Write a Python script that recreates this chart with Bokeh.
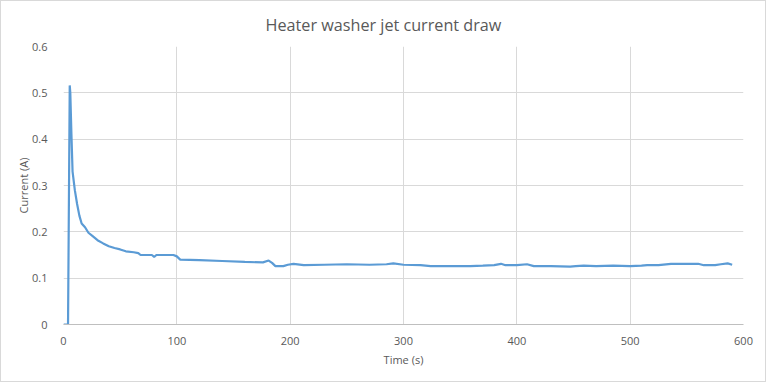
from bokeh.plotting import figure
from bokeh.models import FixedTicker, Range1d
from bokeh.embed import file_html
from bokeh.resources import INLINE

time_s = [0, 4, 5.5, 6, 7, 8, 10, 12, 14, 16, 19, 22, 26, 30, 35, 40, 45, 50, 55, 62, 66, 68,
          78, 80, 82, 97, 100, 103, 120, 140, 160, 176, 181, 184, 187, 194, 198, 203, 212,
          230, 250, 270, 285, 291, 300, 315, 324, 340, 359, 370, 380, 386, 390, 400, 409,
          415, 430, 447, 452, 459, 470, 485, 500, 510, 515, 525, 536, 550, 560, 565, 575,
          580, 586, 590]
current_a = [0, 0, 0.516, 0.50, 0.41, 0.33, 0.29, 0.26, 0.235, 0.218, 0.21, 0.198, 0.19, 0.182,
             0.175, 0.169, 0.165, 0.162, 0.158, 0.156, 0.154, 0.150, 0.150, 0.146, 0.150,
             0.150, 0.147, 0.140, 0.139, 0.137, 0.135, 0.134, 0.138, 0.133, 0.126, 0.126,
             0.129, 0.131, 0.128, 0.129, 0.130, 0.129, 0.130, 0.132, 0.129, 0.128, 0.126,
             0.126, 0.126, 0.127, 0.128, 0.131, 0.128, 0.128, 0.130, 0.126, 0.126, 0.125,
             0.126, 0.127, 0.126, 0.127, 0.126, 0.127, 0.128, 0.128, 0.131, 0.131, 0.131,
             0.128, 0.128, 0.130, 0.132, 0.129]

x_ticks = [0, 100, 200, 300, 400, 500, 600]
y_ticks = [0, 0.1, 0.2, 0.3, 0.4, 0.5, 0.6]
y_labels = {0: "0", 0.1: "0.1", 0.2: "0.2", 0.3: "0.3", 0.4: "0.4", 0.5: "0.5", 0.6: "0.6"}

FONT = "Open Sans"
TXT = "#595959"
GRID = "#D9D9D9"

p = figure(width=766, height=382, output_backend="svg", toolbar_location=None,
           x_range=Range1d(0, 600), y_range=Range1d(0, 0.6),
           min_border_left=62, min_border_right=24, min_border_top=10, min_border_bottom=59)
p.styles = {"border": "1px solid #D9D9D9"}

p.title.text = "Heater washer jet current draw"
p.title.align = "left"
p.title.offset = 202
p.title.text_font = FONT
p.title.text_font_size = "16.2px"
p.title.text_font_style = "normal"
p.title.text_color = TXT
p.title.standoff = 21

p.line(time_s, current_a, line_color="#5B9BD5", line_width=2.2)

p.outline_line_color = None
p.background_fill_color = "white"
p.border_fill_color = "white"

p.xgrid.ticker = FixedTicker(ticks=x_ticks)
p.ygrid.ticker = FixedTicker(ticks=y_ticks)
p.xgrid.grid_line_color = GRID
p.ygrid.grid_line_color = GRID

p.xaxis.ticker = FixedTicker(ticks=x_ticks)
p.yaxis.ticker = FixedTicker(ticks=y_ticks)
p.yaxis.major_label_overrides = y_labels
p.xaxis.axis_label = "Time (s)"
p.yaxis.axis_label = "Current (A)"
for ax in (p.xaxis, p.yaxis):
    ax.major_tick_line_color = None
    ax.minor_tick_line_color = None
    ax.major_label_text_font = FONT
    ax.major_label_text_font_size = "11px"
    ax.major_label_text_color = TXT
    ax.axis_label_text_font = FONT
    ax.axis_label_text_font_size = "11px"
    ax.axis_label_text_font_style = "normal"
    ax.axis_label_text_color = TXT
p.xaxis.axis_line_color = "#BFBFBF"
p.yaxis.axis_line_color = None
p.xaxis.major_label_standoff = 6
p.yaxis.major_label_standoff = 10
p.xaxis.axis_label_standoff = 4
p.yaxis.axis_label_standoff = -2

open("out.html", "w").write(file_html(p, INLINE))
